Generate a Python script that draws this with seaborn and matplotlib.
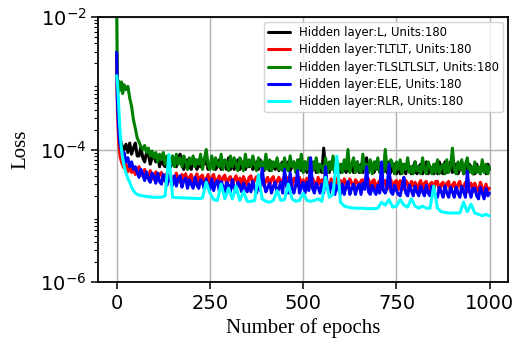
import numpy as np
import matplotlib
matplotlib.use("Agg")
import matplotlib.pyplot as plt
from matplotlib.ticker import LogLocator, MultipleLocator, NullFormatter
import seaborn as sns

# Epochs at which the training loss was recorded
early_epochs = [0, 2, 4, 6, 8, 10, 13, 16, 20, 25, 30, 35, 40, 45, 50, 55]
fine_epochs = early_epochs + list(range(60, 1000, 5)) + [999]
coarse_epochs = early_epochs + list(range(60, 1000, 10)) + [999]

# Loss values in units of 1e-5 (one row per 50 epochs after epoch 60)
loss_L = [
    300, 60, 35, 22, 16, 14, 12, 11, 10, 12, 9, 12.5, 8.5, 10.5, 12.5, 8,
    8, 11, 7.5, 6.5, 9, 8.5, 6, 7.5, 8, 6.5,
    8, 5.5, 7, 6, 5.5, 7.5, 6.5, 5.5, 7, 6,
    5.5, 7, 8.5, 6, 5, 6.5, 7, 5.5, 5, 6.5,
    7, 5, 6, 5.5, 7, 6, 7.5, 5, 6, 6.5,
    6.5, 5, 5.5, 7, 5, 6, 6.5, 5, 7.5, 5,
    6.5, 5, 6, 7, 5, 5.5, 6.5, 5, 6, 5.5,
    6.5, 5, 5.5, 6.5, 5, 7, 5.5, 4.8, 6.5, 6,
    4.8, 6.5, 5.5, 5, 6.5, 4.8, 6, 6.5, 5, 6,
    6.5, 4.8, 5.5, 6.5, 4.8, 6, 7, 4.8, 5.5, 6.5,
    4.5, 6, 5.5, 4.8, 6.5, 4.5, 6, 5.5, 4.5, 10.5,
    5, 6, 4.5, 6.5, 5.5, 4.5, 6.5, 5, 4.5, 6,
    5.5, 4.5, 6, 5.5, 6, 4.5, 5.5, 6.5, 4.5, 6,
    4.5, 5.5, 7.5, 4.5, 6, 5, 4.5, 6.5, 5, 5.5,
    4.5, 6, 5.5, 4.5, 6.5, 4.5, 5.5, 6, 4.3, 5.5,
    4.3, 6, 5, 4.3, 6, 5.5, 4.3, 5.5, 6.5, 4.3,
    5.5, 6, 4.3, 5, 6.5, 4.3, 5.5, 5, 4.3, 6,
    4.3, 6.5, 5, 4.3, 6.5, 4.5, 5.5, 6.5, 4.5, 5.5,
    6, 4.3, 5, 6.5, 4.3, 5.5, 4.3, 6, 5.5, 4.3,
    4.3, 6, 5, 4.3, 6, 5.5, 4.3, 6,
    5,
]
loss_TLTLT = [
    250, 40, 20, 12, 9, 7.5, 6.5, 5.8, 5.2, 6, 4.6, 5.6, 4.5, 5.2, 4.2, 4.8,
    5.5, 4.5, 4, 5, 4.2, 3.6, 4.8, 4, 3.5, 4.6,
    3.5, 4.2, 4.5, 3.4, 3.9, 4.4, 3.3, 4.1, 3.6, 3.3,
    4.4, 3.5, 3.2, 4.2, 3.6, 4.3, 3.2, 3.8, 4.2, 3.1,
    3.7, 4.3, 3.1, 3.9, 4.1, 3.1, 3.6, 4.2, 3.0, 3.8,
    4.2, 3.0, 3.5, 4.0, 3.0, 3.8, 4.1, 2.9, 3.6, 3.9,
    2.9, 3.5, 4.0, 3.0, 3.7, 2.9, 3.9, 3.3, 2.9, 3.8,
    4.0, 2.9, 3.5, 3.9, 2.8, 3.6, 3.9, 2.8, 3.4, 3.8,
    2.8, 3.6, 3.9, 2.8, 3.4, 3.8, 2.8, 3.5, 3.9, 2.8,
    3.8, 3.2, 2.8, 3.7, 3.4, 2.8, 3.8, 3.0, 3.5, 2.7,
    3.7, 3.3, 2.7, 3.7, 3.2, 2.7, 3.8, 3.0, 3.5, 2.7,
    3.7, 3.1, 2.7, 3.6, 3.2, 2.6, 3.7, 2.9, 3.4, 2.6,
    3.6, 3.0, 2.6, 3.6, 3.1, 2.6, 3.5, 3.2, 2.6, 3.4,
    3.5, 2.6, 3.2, 3.6, 2.5, 3.3, 3.5, 2.5, 3.1, 3.4,
    2.5, 3.3, 3.4, 2.5, 3.0, 3.5, 2.5, 3.2, 3.4, 2.5,
    3.4, 2.9, 2.5, 3.4, 3.1, 2.4, 3.3, 2.8, 3.2, 2.4,
    3.0, 3.4, 2.4, 3.1, 3.3, 2.4, 3.0, 3.2, 2.4, 3.3,
    3.3, 2.4, 3.0, 3.2, 2.3, 3.1, 3.3, 2.3, 2.9, 3.2,
    2.3, 3.0, 3.3, 2.3, 2.8, 3.2, 2.3, 3.0, 3.1, 2.3,
    3.1, 2.6, 2.3, 3.2, 2.7, 2.2, 3.0, 2.4,
    2.6,
]
loss_TLSLTLSLT = [
    1500, 95, 110, 75, 100, 85, 105, 70, 95, 80, 90, 60, 45, 28, 21, 15,
    13, 11, 10, 11.5, 9, 10.5, 8, 9.5, 7.5, 9,
    6.5, 8.5, 7, 9, 6, 8, 7.5, 6, 8, 5.5,
    8.5, 6, 7.5, 5.5, 8, 6.5, 5, 7.5, 6, 8,
    5.5, 7, 6, 8.5, 5, 7, 10, 6, 5, 8,
    5, 7.5, 6, 5.5, 8.5, 5, 7, 6.5, 4.8, 8,
    5.5, 7.5, 6, 4.8, 7.5, 6.5, 4.8, 8.5, 5.5, 7,
    5.5, 8, 6, 4.8, 7.5, 5.5, 6.5, 5, 8.5, 5,
    7, 4.8, 6.5, 5.5, 7.5, 5, 6, 4.8, 7.5, 5.5,
    4.8, 8, 5.5, 6.5, 4.5, 7, 5, 8.5, 4.5, 6.5,
    5, 7.5, 4.5, 6.5, 5, 7.5, 4.5, 6, 5.5, 4.5,
    7.5, 4.5, 6.5, 5, 8, 4.5, 7, 5, 6, 4.5,
    7, 5, 10, 4.5, 6, 7.5, 4.5, 6.5, 5, 4.5,
    8.5, 5, 6, 4.5, 7, 4.3, 6.5, 5, 7.5, 4.5,
    6, 4.5, 10, 5, 4.5, 7, 6, 4.3, 6.5, 5,
    7, 4.3, 6, 5, 7.5, 4.5, 5.5, 4.3, 6.5, 4.8,
    5.5, 4.3, 7.5, 5, 4.3, 6.5, 5.5, 4.3, 6, 4.5,
    7, 4.3, 5.5, 6, 4.3, 7, 4.5, 5.5, 10.5, 5,
    4.3, 6.5, 5, 7, 4.3, 6, 7.5, 4.5, 5.5, 4.3,
    6.5, 4.5, 5.5, 4.3, 7, 4.5, 6, 4.3,
    5.5,
]
loss_ELE = [
    290, 60, 30, 18, 13, 11, 9.5, 8, 9, 6.5, 7.5, 5.5, 6.5, 5, 5.5, 4.5,
    3.8, 5, 4.2, 3.4, 4.6, 3.6, 3.2, 4.4, 3.9, 3.1,
    4.4, 3.3, 3.0, 4.2, 3.5, 2.9, 4.0, 3.3, 2.9, 4.0,
    2.8, 3.6, 4.0, 2.7, 3.4, 3.7, 2.6, 3.5, 3.0, 2.6,
    3.8, 2.9, 2.6, 3.5, 3.2, 2.5, 3.6, 2.8, 2.5, 3.6,
    2.4, 3.1, 3.4, 2.4, 3.3, 2.8, 2.3, 3.2, 2.9, 2.3,
    3.5, 2.6, 2.3, 3.2, 2.9, 2.3, 3.1, 2.6, 2.3, 3.0,
    2.3, 3.3, 2.6, 2.2, 3.0, 2.4, 5.2, 3.0, 2.3, 2.7,
    3.1, 2.2, 2.8, 3.2, 2.2, 2.6, 3.2, 2.2, 5.0, 3.0,
    2.2, 4.5, 2.6, 2.2, 2.9, 4.8, 2.2, 2.7, 3.2, 2.2,
    3.2, 2.4, 7.5, 2.6, 2.2, 3.1, 2.7, 2.2, 3.0, 2.2,
    5.5, 2.6, 2.2, 3.1, 2.6, 2.1, 2.9, 2.5, 2.1, 3.0,
    2.1, 2.8, 3.3, 2.1, 2.6, 3.0, 2.1, 2.7, 3.0, 2.1,
    3.1, 2.5, 5.5, 2.3, 2.1, 2.9, 2.4, 2.1, 2.9, 2.2,
    6.5, 2.4, 2.2, 2.7, 6.0, 2.3, 2.1, 2.9, 2.4, 2.1,
    2.0, 2.8, 3.8, 2.2, 2.0, 2.9, 2.4, 2.0, 2.8, 2.3,
    2.0, 2.8, 2.3, 2.0, 2.9, 2.2, 2.0, 2.8, 2.4, 2.0,
    1.9, 2.7, 2.3, 1.9, 2.8, 2.2, 1.9, 2.7, 2.3, 1.9,
    2.7, 2.2, 1.9, 2.8, 2.3, 1.9, 4.7, 2.4, 1.9, 2.6,
    2.6, 2.0, 1.8, 2.7, 2.2, 1.8, 2.6, 2.0,
    2.2,
]
# Recorded on the coarser epoch grid (one row per 100 epochs after epoch 60)
loss_RLR = [
    130, 100, 70, 40, 24, 16, 10, 7.5, 5.6, 4.4, 3.7, 3.2, 2.7, 2.4, 2.2, 2.1,
    2.05, 2.0, 1.95, 1.92, 1.9, 1.9, 1.9, 2.0, 8.4, 1.9,
    1.88, 1.87, 1.86, 1.85, 1.84, 1.83, 1.82, 1.85, 3.2, 2.2,
    1.75, 1.7, 3.0, 1.8, 2.6, 1.8, 2.8, 1.7, 2.3, 1.65,
    1.65, 1.7, 4.2, 1.8, 1.65, 1.6, 1.7, 2.4, 1.7, 1.75,
    3.0, 1.8, 1.65, 1.7, 2.2, 1.7, 1.65, 1.7, 1.8, 1.65,
    3.8, 1.9, 2.1, 7.9, 1.6, 1.4, 1.35, 1.32, 1.3, 1.3,
    1.3, 1.28, 1.28, 1.28, 1.3, 1.6, 1.45, 1.75, 1.35, 1.4,
    1.75, 1.45, 1.35, 1.8, 1.4, 1.3, 1.4, 1.3, 1.3, 2.8,
    1.3, 1.15, 1.12, 1.1, 1.1, 1.1, 1.1, 1.6, 1.15, 1.5,
    1.1, 1.05, 1.0, 1.05,
    1.0,
]

labels = [
    "Hidden layer:L, Units:180",
    "Hidden layer:TLTLT, Units:180",
    "Hidden layer:TLSLTLSLT, Units:180",
    "Hidden layer:ELE, Units:180",
    "Hidden layer:RLR, Units:180",
]
colors = ["black", "red", "green", "blue", "cyan"]
series = [
    (fine_epochs, loss_L),
    (fine_epochs, loss_TLTLT),
    (fine_epochs, loss_TLSLTLSLT),
    (fine_epochs, loss_ELE),
    (coarse_epochs, loss_RLR),
]
unit = 1e-5

sns.set_theme(style="ticks", rc={
    "text.color": "black", "axes.labelcolor": "black",
    "xtick.color": "black", "ytick.color": "black",
    "axes.edgecolor": "black",
})
plt.rcParams["font.family"] = ["DejaVu Sans"]

fig = plt.figure(figsize=(5.15, 3.45), dpi=100)
ax = fig.add_axes([0.1903, 0.1826, 0.7961, 0.7681])

for (ep, vals), lab, col in zip(series, labels, colors):
    sns.lineplot(x=ep, y=np.asarray(vals) * unit, color=col, label=lab,
                 linewidth=2.2, ax=ax, estimator=None, sort=False)

ax.set_yscale("log")
ax.set_ylim(1e-6, 1e-2)
ax.set_xlim(-50, 1049)
ax.xaxis.set_major_locator(MultipleLocator(250))
ax.yaxis.set_major_locator(LogLocator(base=100.0, numticks=10))
ax.yaxis.set_minor_locator(LogLocator(base=10.0, subs=np.arange(2, 10), numticks=20))
ax.yaxis.set_minor_formatter(NullFormatter())

ax.grid(True, which="major", color="#b0b0b0", linewidth=1.0)
ax.set_axisbelow(True)
for sp in ax.spines.values():
    sp.set_color("black")
    sp.set_linewidth(1.3)
ax.tick_params(axis="both", which="major", labelsize=14, length=5, width=1.1,
               color="black", labelcolor="black", direction="out")
ax.tick_params(axis="y", which="minor", length=2.8, width=0.8, color="black")

ax.set_xlabel("Number of epochs", family=["Liberation Serif"], fontsize=15)
ax.set_ylabel("Loss", family=["Liberation Serif"], fontsize=15, labelpad=7)

leg = ax.legend(loc="upper right", fontsize=8.4, labelspacing=0.38,
                borderpad=0.3, handlelength=1.9, framealpha=0.8,
                fancybox=True, borderaxespad=0.45)
leg.get_frame().set_edgecolor("0.8")

fig.savefig("out.png", dpi=100)
